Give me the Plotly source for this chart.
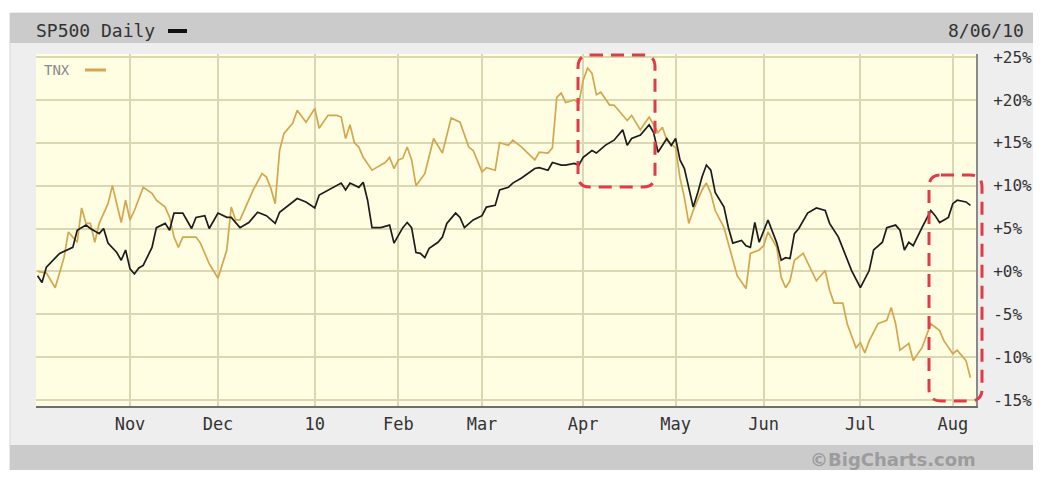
import plotly.graph_objects as go

# ---- data (trading-day index: 0 = first trading day of Nov 2009) ----
sp_day = [-21, -20, -19, -17, -16, -13, -12, -10, -9, -7, -6, -5, -3, -2, -1, 0, 1, 2, 3, 5, 6, 8, 9, 10,
          12, 14, 15, 17, 18, 20, 22, 23, 25, 27, 29, 31, 33, 34, 36, 38, 40, 42, 43, 44, 47, 48, 49, 50,
          52, 53, 54, 55, 57, 59, 60, 62, 63, 64, 65, 66, 67, 68, 70, 71, 72, 74, 75, 76, 78, 80, 81, 83,
          84, 86, 87, 89, 92, 93, 95, 96, 98, 99, 101, 102, 103, 105, 106, 108, 110, 112, 113, 114, 116,
          117, 118, 119, 120, 122, 123, 124, 125, 126, 128, 129, 130, 131, 132, 133, 135, 136, 137, 139,
          140, 141, 142, 143, 145, 147, 148, 149, 150, 151, 152, 154, 156, 158, 159, 161, 162, 164, 166,
          168, 169, 171, 172, 174, 175, 176, 177, 178, 180, 181, 182, 183, 184, 186, 187, 188, 190, 191]
sp_val = [-0.5, -1.3, 0.5, 1.5, 2.1, 2.8, 4.8, 5.4, 5.0, 4.4, 5.0, 3.3, 2.2, 1.3, 2.5, 0.3, -0.3, 0.4, 0.7,
          2.8, 5.1, 5.6, 4.8, 6.8, 6.8, 5.0, 6.3, 6.5, 5.0, 6.8, 6.3, 6.3, 5.1, 5.7, 6.9, 6.5, 5.6, 6.9,
          7.7, 8.5, 8.1, 7.4, 8.9, 9.2, 10.0, 10.3, 9.5, 10.3, 9.8, 10.4, 8.3, 5.1, 5.1, 5.4, 3.3, 5.1,
          5.7, 5.1, 2.2, 2.1, 1.6, 2.7, 3.4, 4.0, 5.6, 6.8, 6.3, 5.1, 6.0, 6.5, 7.5, 7.7, 9.5, 9.8, 10.3,
          10.9, 12.0, 12.1, 11.8, 12.7, 12.4, 12.4, 12.6, 12.4, 13.3, 14.1, 13.8, 14.7, 15.3, 16.5, 14.7,
          15.5, 15.9, 16.5, 17.1, 16.2, 13.9, 15.5, 14.7, 15.5, 13.0, 12.0, 7.5, 9.1, 11.0, 12.4, 11.8,
          9.2, 7.5, 5.1, 3.3, 3.6, 3.0, 2.8, 5.7, 3.4, 6.0, 3.3, 1.3, 1.6, 1.5, 4.4, 5.0, 6.8, 7.4, 7.1,
          5.6, 4.0, 2.7, 0.1, -1.9, 0.1, 2.5, 3.4, 5.1, 5.4, 4.8, 2.5, 3.4, 3.0, 5.1, 6.2, 7.1, 6.5, 5.7,
          6.3, 7.9, 8.3, 8.1, 7.7]

tnx_day = [-21, -19, -17, -16, -15, -14, -13, -12, -11, -10, -9, -8, -7, -5, -4, -3, -2, -1, 0, 1, 3, 5,
           6, 8, 9, 10, 11, 12, 15, 16, 18, 20, 22, 23, 24, 25, 27, 28, 30, 31, 32, 33, 34, 35, 37, 38,
           40, 42, 43, 45, 47, 48, 49, 50, 51, 52, 53, 55, 56, 58, 59, 60, 61, 62, 63, 64, 65, 67, 69,
           71, 73, 75, 77, 78, 80, 81, 83, 84, 86, 87, 89, 92, 93, 95, 96, 97, 98, 99, 101, 102, 103,
           104, 105, 106, 107, 109, 110, 112, 113, 114, 115, 116, 117, 118, 120, 121, 122, 124, 125,
           126, 127, 128, 130, 131, 132, 133, 135, 136, 138, 140, 141, 143, 144, 145, 147, 148, 149,
           150, 151, 153, 155, 156, 158, 159, 160, 162, 163, 165, 166, 167, 168, 170, 172, 173, 174,
           175, 177, 178, 180, 182, 184, 185, 187, 188, 190, 191]
tnx_val = [0.0, -0.2, -1.9, -0.2, 1.6, 4.6, 4.0, 3.4, 7.4, 5.6, 5.6, 3.4, 5.6, 7.9, 10.0, 7.9, 5.7, 8.3,
           6.0, 7.1, 9.8, 9.1, 8.3, 7.5, 6.3, 4.0, 2.8, 4.0, 4.0, 3.3, 0.9, -0.8, 2.5, 7.5, 6.0, 6.0, 8.3,
           9.5, 11.4, 11.0, 9.7, 7.9, 14.1, 16.1, 17.3, 18.8, 17.4, 19.0, 16.7, 18.2, 18.2, 18.0, 15.5,
           17.1, 15.0, 14.5, 13.3, 11.8, 12.1, 12.7, 13.3, 12.0, 13.0, 13.2, 14.5, 13.0, 10.0, 11.4,
           15.5, 13.8, 17.9, 17.4, 14.5, 14.1, 11.6, 12.1, 11.8, 15.0, 14.7, 15.3, 14.5, 13.0, 13.9,
           13.8, 14.4, 20.3, 20.8, 19.7, 20.0, 19.6, 22.3, 23.7, 23.1, 20.6, 20.9, 19.4, 19.4, 18.2,
           17.6, 18.2, 17.4, 16.5, 17.3, 18.0, 16.2, 16.8, 15.3, 14.4, 10.9, 8.6, 5.6, 7.1, 9.5, 10.3,
           9.1, 7.1, 5.1, 3.3, -0.5, -2.0, 2.1, 2.5, 3.0, 4.6, 2.8, -0.7, -1.9, -1.1, 1.3, 2.1, -0.1,
           -1.1, 0.1, -2.2, -3.7, -3.7, -6.1, -8.9, -8.3, -9.5, -8.1, -6.1, -5.7, -4.2, -6.1, -9.2,
           -8.4, -10.4, -8.9, -6.1, -6.9, -8.1, -9.6, -9.2, -10.4, -12.4]

month_ticks = [0, 20, 42, 61, 80, 103, 124, 144, 166, 187]
month_labels = ["Nov", "Dec", "10", "Feb", "Mar", "Apr", "May", "Jun", "Jul", "Aug"]
pct_ticks = [-15, -10, -5, 0, 5, 10, 15, 20, 25]
pct_labels = ["-15%", "-10%", "-5%", "+0%", "+5%", "+10%", "+15%", "+20%", "+25%"]

# ---- layout geometry (pixels in the target window) ----
OFF = 8                      # page body margin of the html page (all sides)
W, H = 1041 - 2 * OFF, 478 - 2 * OFF
PL, PR, PT, PB = 36, 976, 54, 406


def px(x):
    return (x - PL) / (PR - PL)


def py(y):
    return (PB - y) / (PB - PT)


def rect(x0, y0, x1, y1, fill, line=None, layer="below"):
    return dict(type="rect", xref="paper", yref="paper",
                x0=px(x0), x1=px(x1), y0=py(y1), y1=py(y0),
                fillcolor=fill, line=dict(width=0 if line is None else 1, color=line or fill),
                layer=layer)


def rounded(x0, y0, x1, y1, r):
    pts = [("M", x0 + r, y0), ("L", x1 - r, y0), ("Q", x1, y0, x1, y0 + r), ("L", x1, y1 - r),
           ("Q", x1, y1, x1 - r, y1), ("L", x0 + r, y1), ("Q", x0, y1, x0, y1 - r), ("L", x0, y0 + r),
           ("Q", x0, y0, x0 + r, y0)]
    s = ""
    for p in pts:
        coords = p[1:]
        parts = [f"{px(coords[i]):.5f},{py(coords[i + 1]):.5f}" for i in range(0, len(coords), 2)]
        s += p[0] + " " + " ".join(parts) + " "
    return s + "Z"


MONO = "DejaVu Sans Mono"
fig = go.Figure()
fig.add_trace(go.Scatter(x=tnx_day, y=tnx_val, mode="lines", name="TNX",
                         line=dict(color="#d4a64e", width=1.7)))
fig.add_trace(go.Scatter(x=sp_day, y=sp_val, mode="lines", name="SP500",
                         line=dict(color="#1c1c1c", width=1.7)))

grid = "#d9d8b2"
shapes = [
    rect(10, 13, 1060, 480, "#eeeeee", line="#d6d6d6"),
    rect(10, 13, 1060, 43, "#cbcbcb"),
    rect(10, 445, 1060, 480, "#cbcbcb"),
    rect(PL, PT, PR, PB, "#fffde2"),
    # legend dashes
    dict(type="line", xref="paper", yref="paper", x0=px(168), x1=px(187), y0=py(31), y1=py(31),
         line=dict(color="#111111", width=4), layer="above"),
    dict(type="line", xref="paper", yref="paper", x0=px(85), x1=px(106), y0=py(70), y1=py(70),
         line=dict(color="#d4a64e", width=3), layer="above"),
    # red dashed highlight boxes
    dict(type="path", xref="paper", yref="paper", path=rounded(578, 55, 655, 187, 12),
         line=dict(color="#e23a48", width=3, dash="13px,8px"), layer="above"),
    dict(type="path", xref="paper", yref="paper", path=rounded(929, 175, 982, 401, 12),
         line=dict(color="#e23a48", width=3, dash="13px,8px"), layer="above"),
]

annotations = [
    dict(text="SP500 Daily", x=px(34), y=py(31), xref="paper", yref="paper", xanchor="left",
         yanchor="middle", showarrow=False, font=dict(family=MONO, size=18, color="#333333")),
    dict(text="8/06/10", x=px(1026), y=py(31), xref="paper", yref="paper", xanchor="right",
         yanchor="middle", showarrow=False, font=dict(family=MONO, size=18, color="#333333")),
    dict(text="TNX", x=px(42), y=py(70), xref="paper", yref="paper", xanchor="left",
         yanchor="middle", showarrow=False, font=dict(family=MONO, size=14, color="#8a8a8a")),
    dict(text="©BigCharts.com", x=px(978), y=py(459), xref="paper", yref="paper", xanchor="right",
         yanchor="middle", showarrow=False,
         font=dict(family="DejaVu Sans", size=18, color="#9c9c9c", weight="bold")),
]

fig.update_layout(
    width=W, height=H,
    margin=dict(l=PL - OFF, r=W - (PR - OFF), t=PT - OFF, b=H - (PB - OFF), pad=0, autoexpand=False),
    paper_bgcolor="white", plot_bgcolor="rgba(0,0,0,0)",
    showlegend=False,
    shapes=shapes, annotations=annotations,
    xaxis=dict(range=[(PL - 130) / 4.4, (PR - 130) / 4.4], tickvals=month_ticks, ticktext=month_labels,
               showgrid=True, gridcolor=grid, gridwidth=1.5, zeroline=False, automargin=False,
               showline=True, linecolor="#6e6e6e", linewidth=2, ticks="",
               tickfont=dict(family=MONO, size=17, color="#333333"), ticklabelstandoff=2,
               fixedrange=True),
    yaxis=dict(range=[(271.4 - PB) / 8.575, (271.4 - PT) / 8.575], side="right",
               tickvals=pct_ticks, ticktext=pct_labels, automargin=False,
               showgrid=True, gridcolor=grid, gridwidth=1.5, zeroline=False,
               showline=True, linecolor="#8a8a8a", linewidth=2, ticks="",
               tickfont=dict(family=MONO, size=16, color="#333333"), ticklabelstandoff=12,
               fixedrange=True),
)

fig.write_html("out.html")
